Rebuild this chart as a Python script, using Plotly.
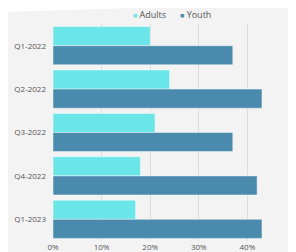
import plotly.graph_objects as go

quarters = ["Q1-2022", "Q2-2022", "Q3-2022", "Q4-2022", "Q1-2023"]
adults = [20, 24, 21, 18, 17]
youth = [37, 43, 37, 42, 43]
series_names = ["Adults", "Youth"]
x_ticks = [0, 10, 20, 30, 40, 50]
x_tick_labels = ["0%", "10%", "20%", "30%", "40%", "50%"]

ADULT_C = "#6ae5e8"
YOUTH_C = "#4a8bad"
TEXT_C = "#555555"
FONT = "Open Sans"

fig = go.Figure()
fig.add_trace(go.Bar(y=quarters, x=adults, orientation="h", name=series_names[0],
                     marker=dict(color=ADULT_C, line=dict(color="rgba(255,255,255,0.45)", width=1)),
                     showlegend=False))
fig.add_trace(go.Bar(y=quarters, x=youth, orientation="h", name=series_names[1],
                     marker=dict(color=YOUTH_C, line=dict(color="rgba(255,255,255,0.45)", width=1)),
                     showlegend=False))

legend_text = (
    f"<span style='color:{ADULT_C};font-size:7px'>■</span> {series_names[0]}"
    f"&nbsp;&nbsp;&nbsp;&nbsp;&nbsp;&nbsp;"
    f"<span style='color:{YOUTH_C};font-size:7px'>■</span> {series_names[1]}"
)

# page body has an 8px default margin, so the figure is sized to the remaining area
fig.update_layout(
    width=288, height=244,
    margin=dict(l=45, r=0, t=16, b=11),
    paper_bgcolor="#f3f3f3",
    plot_bgcolor="#f3f3f3",
    barmode="group",
    bargap=0.12,
    bargroupgap=0,
    font=dict(family=FONT, size=8, color=TEXT_C),
    showlegend=False,
    annotations=[dict(text=legend_text, xref="paper", yref="paper", x=0.49, y=1.045,
                      xanchor="center", yanchor="middle", showarrow=False, borderpad=0,
                      font=dict(family=FONT, size=9, color=TEXT_C))],
    shapes=[dict(type="path", xref="paper", yref="paper", layer="below",
                 path="M -0.3 1.2 L 1.1 1.2 L 1.1 1.0968 L 1.0 1.0968 L -0.218 1.0553 L -0.3 1.0553 Z",
                 fillcolor="#ffffff", line=dict(width=0))],
)
fig.update_xaxes(range=[0, 50], tickvals=x_ticks, ticktext=x_tick_labels, automargin=False,
                 showgrid=True, gridcolor="#dcdcdc", gridwidth=1, zeroline=False,
                 showline=False, ticks="", ticklabelstandoff=0,
                 tickfont=dict(size=8, color=TEXT_C))
fig.update_yaxes(autorange="reversed", automargin=False, showgrid=False, zeroline=False,
                 showline=False, ticks="", ticklabelstandoff=6,
                 tickfont=dict(size=8, color=TEXT_C))

fig.write_html("out.html")
